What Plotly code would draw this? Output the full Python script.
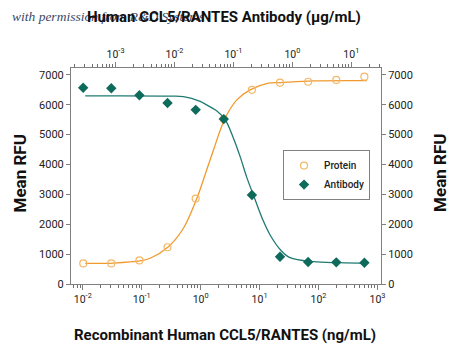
import plotly.graph_objects as go

# ---- data ----
protein_conc = [0.0102, 0.0305, 0.0914, 0.274, 0.823, 2.47, 7.41, 22.2, 66.7, 200, 600]  # ng/mL
protein_rfu = [690, 690, 790, 1230, 2860, 5520, 6500, 6740, 6770, 6830, 6940]

antibody_conc = [0.000282, 0.000847, 0.00254, 0.00762, 0.0229, 0.0686, 0.206, 0.617, 1.85, 5.56, 16.7]  # ug/mL
antibody_rfu = [6570, 6550, 6320, 6060, 5830, 5520, 2980, 910, 735, 725, 710]

# fitted curves
protein_fit_conc = [0.011, 0.033, 0.098, 0.139, 0.284, 0.51, 0.863, 1.11, 1.65, 2.60, 4.11, 6.90, 14.1, 22.4, 81.3, 660]
protein_fit_rfu = [690, 700, 780, 861, 1249, 1865, 2870, 3483, 4488, 5549, 6162, 6497, 6721, 6741, 6798, 6808]

antibody_fit_conc = [0.000306, 0.00845, 0.0142, 0.0273, 0.0310, 0.0524, 0.0723, 0.100, 0.130, 0.169, 0.218,
                     0.312, 0.419, 0.643, 0.914, 2.26, 6.37, 18.4]
antibody_fit_rfu = [6296, 6290, 6273, 6110, 6052, 5790, 5500, 4880, 4263, 3560, 2981,
                    2170, 1641, 1120, 880, 747, 713, 693]

y_ticks = [0, 1000, 2000, 3000, 4000, 5000, 6000, 7000]
bottom_decades = [-3, -2, -1, 0, 1, 2, 3]
top_decades = [-4, -3, -2, -1, 0, 1, 2]

x_range_log = [-2.2, 3.06]
axis_offset = 1.556  # log10 shift between ng/mL and ug/mL axes
y_range = [0, 7230]

ORANGE_LINE = "#F09A2E"
ORANGE_MARK = "#F4B766"
TEAL_LINE = "#1F7A73"
TEAL_MARK = "#0E6B5C"
AXIS_GREY = "#808080"
FONT = "Roboto, Liberation Sans, sans-serif"


def decade_ticks(decades):
    vals = [10.0 ** d for d in decades]
    text = ["10<sup>%d</sup>" % d for d in decades]
    minor = [m * 10.0 ** d for d in decades for m in range(2, 10)]
    return vals, text, minor


fig = go.Figure()

fig.add_trace(go.Scatter(x=protein_fit_conc, y=protein_fit_rfu, mode="lines",
                         line=dict(color=ORANGE_LINE, width=1.3, shape="spline", smoothing=1.0),
                         showlegend=False, hoverinfo="skip", xaxis="x", yaxis="y"))
fig.add_trace(go.Scatter(x=antibody_fit_conc, y=antibody_fit_rfu, mode="lines",
                         line=dict(color=TEAL_LINE, width=1.3, shape="spline", smoothing=1.0),
                         showlegend=False, hoverinfo="skip", xaxis="x2", yaxis="y2"))
fig.add_trace(go.Scatter(x=protein_conc, y=protein_rfu, mode="markers", name="Protein",
                         marker=dict(symbol="circle-open", size=7, color=ORANGE_MARK,
                                     line=dict(width=1.2, color=ORANGE_MARK)),
                         xaxis="x", yaxis="y"))
fig.add_trace(go.Scatter(x=antibody_conc, y=antibody_rfu, mode="markers", name="Antibody",
                         marker=dict(symbol="diamond", size=8, color=TEAL_MARK),
                         xaxis="x2", yaxis="y2"))


def x_axis(decades, rng, side, overlay=None):
    vals, text, minor = decade_ticks(decades)
    d = dict(type="log", range=rng, side=side, tickmode="array", tickvals=vals, ticktext=text,
             showgrid=False, zeroline=False, showline=True, linecolor=AXIS_GREY, linewidth=1,
             ticks="outside", ticklen=5, tickcolor=AXIS_GREY, tickwidth=1,
             minor=dict(ticks="outside", ticklen=3, tickcolor="#707070", tickwidth=1,
                        tickmode="array", tickvals=minor, showgrid=False),
             tickfont=dict(family=FONT, size=10.5, color="#222"))
    if overlay:
        d["overlaying"] = overlay
    return d


common_y = dict(range=y_range, tickvals=y_ticks, showgrid=False, zeroline=False, showline=True,
                linecolor=AXIS_GREY, linewidth=1, ticks="outside", ticklen=4, tickcolor=AXIS_GREY,
                tickfont=dict(family=FONT, size=11, color="#222"))

fig.update_layout(
    width=450, height=348,
    margin=dict(l=71, r=69, t=68, b=64),
    paper_bgcolor="white", plot_bgcolor="white",
    xaxis=x_axis(bottom_decades, x_range_log, "bottom"),
    xaxis2=x_axis(top_decades, [x_range_log[0] - axis_offset, x_range_log[1] - axis_offset], "top", "x"),
    yaxis=dict(side="left", **common_y),
    yaxis2=dict(side="right", overlaying="y", **common_y),
    legend=dict(x=0.684, y=0.62, xanchor="left", yanchor="top",
                bgcolor="white", bordercolor=AXIS_GREY, borderwidth=1,
                font=dict(family=FONT, size=10, color="#222", weight=500),
                tracegroupgap=2),
    showlegend=True,
)

fig.add_annotation(text="with permission from R&D Systems", xref="paper", yref="paper",
                   x=-0.197, y=1.24, xanchor="left", yanchor="middle", showarrow=False,
                   font=dict(family="Liberation Serif, serif", size=13.5, color="#3b4866", style="italic"))
fig.add_annotation(text="Human CCL5/RANTES Antibody (μg/mL)", xref="paper", yref="paper",
                   x=0.495, y=1.236, xanchor="center", yanchor="middle", showarrow=False,
                   font=dict(family=FONT, size=15, color="#111", weight=700))
fig.add_annotation(text="Recombinant Human CCL5/RANTES (ng/mL)", xref="paper", yref="paper",
                   x=0.497, y=-0.236, xanchor="center", yanchor="middle", showarrow=False,
                   font=dict(family=FONT, size=15, color="#111", weight=700))
fig.add_annotation(text="Mean RFU", xref="paper", yref="paper",
                   x=-0.163, y=0.514, xanchor="center", yanchor="middle", showarrow=False,
                   textangle=-90, font=dict(family=FONT, size=17, color="#111", weight=700))
fig.add_annotation(text="Mean RFU", xref="paper", yref="paper",
                   x=1.19, y=0.514, xanchor="center", yanchor="middle", showarrow=False,
                   textangle=-90, font=dict(family=FONT, size=17, color="#111", weight=700))

fig.write_html("out.html")
